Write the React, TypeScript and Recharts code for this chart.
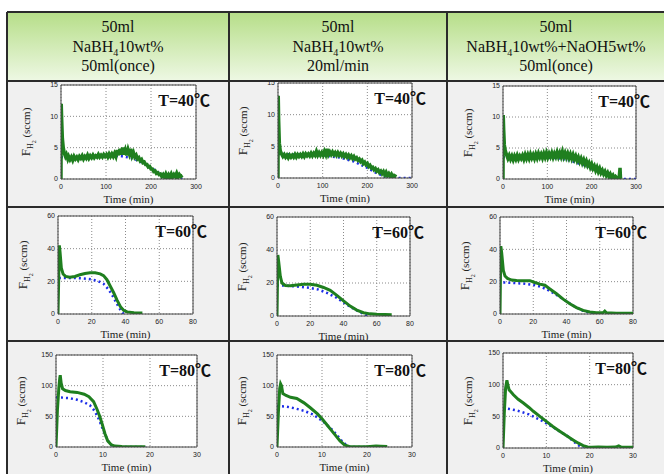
import { LineChart, Line, XAxis, YAxis, CartesianGrid, ReferenceLine } from 'recharts'

type Pt = [number, number]

// measured (green) and model (blue dotted) curves, [time, flow]
const a1Green: Pt[] = [[0,0],[0.5,12],[1.5,9.5],[3,6.5],[5,5],[7,4.2],[10,3.6],[12,3.9],[15,3.2],[17,3.6],[20,3.1],[23,3.5],[26,3.0],[29,3.6],[32,3.2],[35,3.5],[38,3.1],[41,3.6],[44,3.3],[47,3.7],[50,3.2],[53,3.6],[56,3.3],[59,3.8],[62,3.3],[65,3.7],[68,3.4],[71,3.8],[74,3.4],[77,3.7],[80,3.5],[83,3.9],[86,3.5],[89,3.8],[92,3.5],[95,3.9],[98,3.6],[101,3.9],[104,3.5],[107,4.0],[110,3.6],[113,4.0],[116,3.6],[119,4.1],[122,3.6],[125,4.6],[128,3.8],[131,4.8],[134,3.9],[137,5.0],[140,3.9],[143,4.6],[146,3.8],[149,4.7],[152,4.0],[155,4.8],[158,3.7],[161,4.2],[164,3.5],[167,3.8],[170,3.2],[173,3.4],[176,2.9],[179,3.1],[182,2.6],[185,2.7],[188,2.3],[191,2.3],[194,1.9],[197,2.0],[200,1.6],[203,1.6],[206,1.2],[209,1.3],[212,0.9],[215,1.0],[218,0.7],[221,0.8],[224,0.4],[227,0.7],[230,0.3],[233,0.8],[236,0.3],[239,0.7],[242,0.3],[245,0.8],[248,0.3],[251,0.7],[254,0.4],[257,0.9],[260,0.3],[263,0.7],[266,0.4],[270,0.6]]
const a1Blue: Pt[] = [[0,3.5],[30,3.4],[60,3.5],[100,3.6],[130,3.7],[160,3.3],[190,2.3],[215,1.1],[235,0.4],[255,0.1],[270,0]]

const b1Green: Pt[] = [[0,0],[0.5,13],[1.5,9],[3,5.5],[5,4.3],[8,3.8],[11,3.4],[14,3.7],[17,3.3],[20,3.6],[23,3.2],[26,3.6],[29,3.3],[32,3.6],[35,3.3],[38,3.7],[41,3.3],[44,3.7],[47,3.4],[50,3.7],[53,3.4],[56,3.8],[59,3.4],[62,3.8],[65,3.5],[68,3.8],[71,3.5],[74,3.9],[77,3.5],[80,3.9],[83,3.6],[86,4.2],[89,3.6],[92,4.0],[95,3.6],[98,4.0],[101,3.6],[104,4.2],[107,3.7],[110,4.6],[113,3.7],[116,4.1],[119,3.7],[122,4.1],[125,3.7],[128,4.0],[131,3.6],[134,4.0],[137,3.6],[140,3.9],[143,3.5],[146,3.8],[149,3.4],[152,3.7],[155,3.3],[158,3.6],[161,3.2],[164,3.5],[167,3.1],[170,3.4],[173,3.0],[176,3.2],[179,2.8],[182,3.0],[185,2.6],[188,2.8],[191,2.3],[194,2.5],[197,2.1],[200,2.3],[203,1.8],[206,2.0],[209,1.6],[212,1.7],[215,1.3],[218,1.5],[221,1.1],[224,1.3],[227,0.9],[230,1.1],[233,0.7],[236,1.0],[239,0.5],[242,0.9],[245,0.4],[248,0.7],[251,0.3],[254,0.6],[257,0.2],[260,0.4],[265,0.2]]
const b1Blue: Pt[] = [[0,3.8],[40,3.7],[80,3.7],[110,3.5],[140,3.2],[170,2.6],[200,1.6],[220,0.8],[240,0.2],[255,0],[300,0]]

const c1Green: Pt[] = [[0,0],[0.5,10.3],[1.5,8],[3,5.5],[5,4.6],[8,3.9],[11,3.3],[14,3.8],[17,3.2],[20,3.7],[23,3.1],[26,3.7],[29,3.2],[32,3.8],[35,3.2],[38,3.7],[41,3.3],[44,3.8],[47,3.2],[50,3.9],[53,3.3],[56,3.9],[59,3.3],[62,4.0],[65,3.4],[68,3.9],[71,3.3],[74,4.0],[77,3.4],[80,4.1],[83,3.5],[86,4.0],[89,3.4],[92,4.1],[95,3.5],[98,4.2],[101,3.5],[104,4.1],[107,3.6],[110,4.2],[113,3.5],[116,4.1],[119,3.6],[122,4.3],[125,3.6],[128,4.2],[131,3.6],[134,4.4],[137,3.6],[140,4.2],[143,3.5],[146,4.1],[149,3.4],[152,4.0],[155,3.3],[158,3.9],[161,3.2],[164,3.7],[167,3.0],[170,3.5],[173,2.8],[176,3.3],[179,2.6],[182,3.1],[185,2.4],[188,2.9],[191,2.2],[194,2.6],[197,1.9],[200,2.4],[203,1.7],[206,2.1],[209,1.4],[212,1.9],[215,1.2],[218,1.7],[221,1.0],[224,1.4],[227,0.8],[230,1.2],[233,0.6],[236,1.0],[239,0.4],[242,0.8],[245,0.3],[248,0.6],[251,0.1],[254,0.4],[258,0.1],[262,0.2],[264,1.8],[265,0.2],[266,0]]
const c1Blue: Pt[] = [[0,3.5],[40,3.4],[80,3.5],[120,3.4],[150,3.0],[180,2.3],[210,1.4],[235,0.5],[250,0],[300,0]]

const a2Green: Pt[] = [[0,0],[0.8,42],[1.2,38],[2,28],[3,24.5],[4.5,23],[7,22.5],[10,23],[13,24],[16,24.8],[19,25.3],[22,25.3],[25,24.6],[27,23.5],[29,21],[31,17],[33,13],[35,8.5],[37,4.5],[39,2.2],[41,1.3],[45,0.8],[50,0.6]]
const a2Blue: Pt[] = [[0.5,22],[5,22],[10,22],[15,21.8],[20,21.2],[24,20],[27,18.5],[30,15],[33,10],[35,6],[37,2.5],[38.5,0.5],[40,0]]

const b2Green: Pt[] = [[0,0],[0.5,37],[1,33],[2,24],[3,20],[5,18.5],[8,18.3],[12,18.8],[16,19.2],[20,19.2],[24,18.6],[28,17.3],[32,15.6],[36,12.5],[40,9.2],[44,6],[48,3.6],[52,2],[56,1.3],[60,1],[65,0.9],[69,0.8]]
const b2Blue: Pt[] = [[0,18.6],[5,18.4],[10,18],[15,17.5],[20,17],[25,16],[30,14],[35,11.5],[40,8.3],[45,5],[50,2.3],[53,0.8],[55,0]]

const c2Green: Pt[] = [[0,0],[0.5,42],[1,38],[2,27],[3,23.5],[4.5,22],[7,21],[10,20.7],[14,20.5],[18,20.6],[21,19.5],[24,18.5],[27,17.8],[30,15.5],[34,12.5],[38,9.2],[42,6.3],[46,4],[50,2.2],[54,1.2],[58,0.8],[62,0.8],[63,1.8],[64,0.7],[70,0.5],[80,0.4]]
const c2Blue: Pt[] = [[2,19.5],[8,19.2],[14,18.8],[20,18],[24,17],[28,15.3],[32,13],[36,10.5],[40,7.8],[45,4.6],[50,2],[54,0.7],[57,0]]

const a3Green: Pt[] = [[0,0],[0.3,60],[0.6,96],[0.8,112],[0.9,117],[1.1,104],[1.4,95],[2,92],[3,90],[4.5,89],[6,86],[7,82],[8,74],[8.7,62],[9.3,50],[9.8,38],[10.4,22],[11,10],[11.7,4],[12.5,1.5],[14,0.8],[19,0.6]]
const a3Blue: Pt[] = [[0,81],[1.5,80.5],[3,79.5],[4.5,77],[6,73],[7.2,68],[8,61],[8.7,52],[9.3,42],[9.8,32],[10.4,21],[11,11],[11.6,4],[12.2,0.5],[13,0],[19,0]]

const b3Green: Pt[] = [[0,0],[0.3,55],[0.6,95],[0.8,103],[1,100],[1.3,87],[2,84],[3,81],[4.4,79],[6,72],[7.4,64],[9,54],[10,46],[11,37],[12,28],[13,19],[14,10],[15,3.5],[16,1],[17,0.5],[20,0.5],[22,1.5],[23,1.2],[24.5,0.8]]
const b3Blue: Pt[] = [[0,67],[2,66],[4,63],[6,59],[8,53],[10,43],[12,30],[13.5,18],[14.5,9],[15.5,2.5],[16.3,0],[20,0],[24.5,0]]

const c3Green: Pt[] = [[0,0],[0.3,55],[0.6,95],[0.9,107],[1.1,100],[1.4,92],[2.4,84],[3.5,77],[4.7,71],[6,64],[7,58],[8.5,50],[10,42],[11.5,34],[13,27],[14.5,20],[16,13.5],[17.3,8],[18.5,3.7],[19.5,1.5],[20.5,1],[22,1.5],[24,1],[26,1.5],[26.7,3.5],[27.4,1.2],[30,1]]
const c3Blue: Pt[] = [[0,63],[1.5,61.5],[3,59.5],[4.5,56.5],[6,53],[7.5,48],[9,43],[10.5,37],[12,31],[13.5,24.5],[15,18],[16.3,10],[17.3,5],[18,1.5],[18.6,0]]

const temps = ['T=40℃', 'T=60℃', 'T=80℃']
const xMaxes = [300, 80, 30]
const yMaxes = [15, 60, 150]
const xTickSets = [[0, 100, 200, 300], [0, 20, 40, 60, 80], [0, 10, 20, 30]]
const yTickSets = [[0, 5, 10, 15], [0, 20, 40, 60], [0, 50, 100, 150]]

const series: [Pt[], Pt[]][][] = [
  [[a1Green, a1Blue], [b1Green, b1Blue], [c1Green, c1Blue]],
  [[a2Green, a2Blue], [b2Green, b2Blue], [c2Green, c2Blue]],
  [[a3Green, a3Blue], [b3Green, b3Blue], [c3Green, c3Blue]],
]

// plot boxes on the page
const boxes = [
  [{ x: 61, y: 85, w: 135, h: 94 }, { x: 278, y: 83, w: 134, h: 95 }, { x: 503, y: 86, w: 133, h: 93 }],
  [{ x: 58, y: 216, w: 135, h: 98 }, { x: 277, y: 217, w: 133, h: 99 }, { x: 500, y: 217, w: 133, h: 97 }],
  [{ x: 56, y: 355, w: 141, h: 92 }, { x: 277, y: 355, w: 135, h: 92 }, { x: 503, y: 353, w: 130, h: 95 }],
]

const GREEN = '#1f7f1f'
const BLUE = '#1c2de8'
const SERIF = '"Liberation Serif", "Times New Roman", serif'
const SANS = '"Liberation Sans", Arial, sans-serif'
const YW = 20
const MT = 4
const MR = 12
const XH = 30

interface PanelProps {
  box: { x: number; y: number; w: number; h: number }
  row: number
  green: Pt[]
  blue: Pt[]
}

function Panel({ box, row, green, blue }: PanelProps) {
  const { x, y, w, h } = box
  const g = green.map(([t, v]) => ({ t, v }))
  const b = blue.map(([t, v]) => ({ t, v }))
  const xMax = xMaxes[row]
  const yMax = yMaxes[row]
  const tick = { fontSize: 7, fill: '#222', fontFamily: SANS }
  return (
    <>
      <div style={{ position: 'absolute', left: x - YW, top: y - MT }}>
        <LineChart width={w + YW + MR} height={h + MT + XH} margin={{ top: MT, right: MR, left: 0, bottom: 0 }}>
          <CartesianGrid stroke="#8a8a8a" strokeDasharray="1 2" fill="#fff" />
          <XAxis
            type="number"
            dataKey="t"
            domain={[0, xMax]}
            ticks={xTickSets[row]}
            interval={0}
            allowDataOverflow
            height={XH}
            tickLine={false}
            tickSize={3}
            tickMargin={2}
            tick={tick}
            axisLine={{ stroke: '#444' }}
            label={{ value: 'Time (min)', position: 'insideBottom', offset: 6, fontSize: 11, fill: '#222', fontFamily: SERIF }}
          />
          <YAxis
            type="number"
            domain={[0, yMax]}
            ticks={yTickSets[row]}
            interval={0}
            allowDataOverflow
            width={YW}
            tickLine={false}
            tickSize={1}
            tickMargin={2}
            tick={tick}
            axisLine={{ stroke: '#444' }}
          />
          <ReferenceLine y={yMax} stroke="#444" />
          <ReferenceLine x={xMax} stroke="#444" />
          <Line data={b} dataKey="v" stroke={BLUE} strokeWidth={2.5} strokeDasharray="2 3" dot={false} isAnimationActive={false} />
          <Line data={g} dataKey="v" stroke={GREEN} strokeWidth={row === 0 ? 3.5 : 3} dot={false} isAnimationActive={false} />
        </LineChart>
      </div>
      <div
        style={{
          position: 'absolute',
          left: x - 35,
          top: y + h / 2,
          transform: 'translate(-50%, -50%) rotate(-90deg)',
          whiteSpace: 'nowrap',
          fontFamily: SERIF,
          fontSize: 11,
          color: '#222',
        }}
      >
        <span style={{ fontSize: 13 }}>F</span>
        <sub style={{ fontSize: 8, lineHeight: 0 }}>H<sub style={{ fontSize: 6, lineHeight: 0 }}>2</sub></sub> (sccm)
      </div>
      <div
        style={{
          position: 'absolute',
          left: x + w + 14 - 90,
          width: 90,
          top: y + 2,
          textAlign: 'right',
          fontFamily: SERIF + ', "Noto Sans CJK SC"',
          fontWeight: 'bold',
          fontSize: 16,
          color: '#111',
        }}
      >
        {temps[row]}
      </div>
    </>
  )
}

const line = (key: string, s: React.CSSProperties) => <div key={key} style={{ position: 'absolute', background: '#2b2b2b', ...s }} />

export default function App() {
  const colX = [7, 229, 447, 665]
  const rowY = [12, 81, 207, 341]
  const head = { position: 'absolute' as const, top: 17, textAlign: 'center' as const, fontFamily: SERIF, fontSize: 16, lineHeight: '19.5px', color: '#111' }
  const sub4 = <sub style={{ fontSize: 10, lineHeight: 0 }}>4</sub>
  return (
    <div style={{ position: 'absolute', left: 0, top: 0, width: 664, height: 474, overflow: 'hidden', background: '#fff' }}>
      <div style={{ position: 'absolute', left: 7, top: 12, width: 660, height: 69, background: 'linear-gradient(#b6de88, #eef8e4)' }} />
      <div style={{ position: 'absolute', left: 7, top: 81, width: 660, height: 400, background: '#f0f0f0' }} />
      <div style={{ ...head, left: colX[0], width: colX[1] - colX[0] }}>
        50ml<br />NaBH{sub4}10wt%<br />50ml(once)
      </div>
      <div style={{ ...head, left: colX[1], width: colX[2] - colX[1] }}>
        50ml<br />NaBH{sub4}10wt%<br />20ml/min
      </div>
      <div style={{ ...head, left: colX[2], width: colX[3] - colX[2] }}>
        50ml<br />NaBH{sub4}10wt%+NaOH5wt%<br />50ml(once)
      </div>
      {series.map((r, ri) =>
        r.map(([g, b], ci) => <Panel key={`${ri}-${ci}`} box={boxes[ri][ci]} row={ri} green={g} blue={b} />)
      )}
      {rowY.map((yy, i) => line(`h${i}`, { left: 7, top: yy - 1, width: 660, height: 1.5 }))}
      {colX.map((xx, i) => line(`v${i}`, { left: xx - 1, top: 12, width: 1.5, height: 470 }))}
    </div>
  )
}
